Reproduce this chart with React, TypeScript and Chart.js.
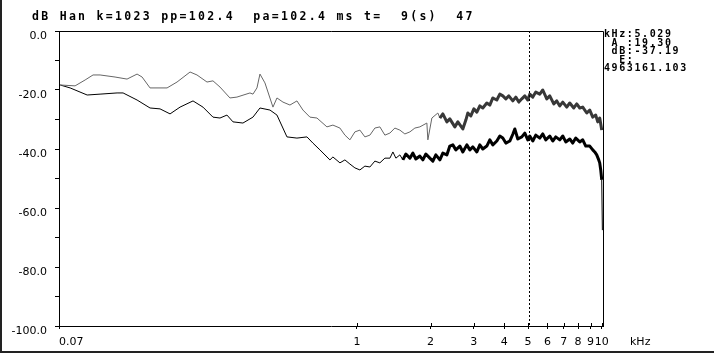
import React, { useEffect, useRef } from 'react';
import { Chart, registerables } from 'chart.js';

Chart.register(...registerables);

// ---- data (kHz, dB) ----
const UPPER_KHZ = [
  0.0614, 0.0706, 0.0776, 0.0836, 0.0893, 0.1028, 0.1151, 0.1265, 0.1326, 0.1429,
  0.1677, 0.1842, 0.2082, 0.2222, 0.2442, 0.2583, 0.2759, 0.303, 0.3236, 0.3658,
  0.3762, 0.3906, 0.4018, 0.4211, 0.4541, 0.4715, 0.4989, 0.5328, 0.569, 0.602,
  0.6429, 0.6867, 0.7543, 0.798, 0.8524, 0.8934, 0.9364, 0.9813, 1.0285, 1.078,
  1.13, 1.184, 1.241, 1.301, 1.364, 1.429, 1.498, 1.57, 1.646, 1.725,
  1.808, 1.931, 1.949, 2.024, 2.141,
  2.182, 2.244, 2.33, 2.396, 2.512, 2.584, 2.708, 2.786, 2.839, 2.92,
  3.004, 3.09, 3.177, 3.268, 3.393, 3.49, 3.591, 3.728, 3.834, 3.944,
  4.057, 4.173, 4.333, 4.457, 4.584, 4.716, 4.851, 4.989, 5.083, 5.229,
  5.378, 5.584, 5.744, 5.963, 6.134, 6.37, 6.552, 6.74, 6.932, 7.196,
  7.403, 7.687, 7.906, 8.133, 8.365, 8.686, 8.935, 9.19, 9.452, 9.631,
  9.813, 10.0,
];
const UPPER_DB = [
  -18.3, -18.6, -16.6, -14.9, -14.9, -15.6, -16.3, -14.6, -15.6, -19.3,
  -19.3, -17.3, -13.9, -14.9, -17.3, -16.9, -19.0, -22.7, -22.4, -21.0,
  -21.4, -19.3, -14.6, -17.6, -25.8, -22.7, -24.1, -25.1, -23.7, -26.8,
  -29.2, -29.5, -32.5, -31.9, -32.9, -35.3, -36.9, -34.2, -33.6, -35.9,
  -35.3, -32.9, -32.5, -35.3, -34.6, -32.9, -33.6, -34.9, -34.2, -32.9,
  -32.5, -31.2, -36.9, -29.5, -27.8,
  -29.5, -28.1, -30.8, -29.8, -32.5, -30.8, -33.2, -30.2, -27.8, -28.8,
  -26.4, -27.5, -25.4, -26.1, -24.4, -25.1, -22.7, -23.4, -21.4, -22.0,
  -23.0, -22.0, -23.7, -22.4, -24.1, -23.0, -22.0, -23.4, -21.4, -22.4,
  -20.7, -21.4, -20.0, -23.0, -22.0, -24.7, -23.7, -25.4, -24.1, -25.8,
  -24.4, -26.1, -24.7, -26.1, -25.8, -27.8, -26.8, -29.2, -28.5, -30.8,
  -29.5, -33.6,
];

const LOWER_KHZ = [
  0.0614, 0.0674, 0.0791, 0.0893, 0.1048, 0.1109, 0.1265, 0.1429, 0.157, 0.1725,
  0.1895, 0.2141, 0.2351, 0.2583, 0.2759, 0.2946, 0.3118, 0.3424, 0.3762, 0.4018,
  0.4415, 0.4715, 0.518, 0.569, 0.6251, 0.6613, 0.7063, 0.7758, 0.798, 0.8524,
  0.8934, 0.9364, 0.9813, 1.0285, 1.078, 1.13, 1.184, 1.241, 1.301, 1.364,
  1.403, 1.443, 1.498,
  1.541, 1.585, 1.646, 1.693, 1.741, 1.808, 1.86, 1.913, 1.986, 2.043,
  2.101, 2.182, 2.244, 2.33, 2.396, 2.465, 2.536, 2.633, 2.708, 2.812,
  2.893, 2.976, 3.09, 3.177, 3.268, 3.393, 3.49, 3.591, 3.728, 3.834,
  3.944, 4.057, 4.212, 4.333, 4.415, 4.541, 4.716, 4.851, 4.989, 5.083,
  5.229, 5.378, 5.584, 5.744, 5.907, 6.134, 6.31, 6.49, 6.74, 6.932,
  7.131, 7.403, 7.614, 7.832, 8.133, 8.365, 8.604, 8.935, 9.19, 9.363,
  9.541, 9.723, 9.813, 9.906, 10.0, 10.06,
];
const LOWER_DB = [
  -18.3, -19.3, -21.7, -21.4, -21.0, -21.0, -23.4, -26.1, -26.4, -28.1,
  -25.8, -23.7, -25.8, -29.2, -29.5, -28.5, -30.8, -31.2, -29.2, -26.1,
  -26.8, -28.5, -35.9, -36.3, -35.9, -38.0, -40.3, -43.7, -42.7, -44.7,
  -43.7, -45.1, -46.4, -47.1, -45.8, -46.1, -44.1, -44.7, -43.1, -43.1,
  -41.0, -43.1, -42.0,
  -43.7, -41.7, -43.1, -41.4, -43.4, -42.4, -43.7, -41.7, -43.1, -44.1,
  -42.0, -43.7, -41.4, -42.0, -39.0, -38.6, -40.3, -39.0, -41.0, -38.6,
  -40.3, -39.3, -41.0, -38.6, -40.0, -39.0, -36.9, -38.6, -37.3, -35.6,
  -36.3, -38.0, -37.3, -35.0, -33.2, -36.6, -35.9, -34.6, -36.9, -35.6,
  -37.3, -35.3, -36.3, -34.9, -36.9, -35.6, -37.3, -35.9, -36.9, -35.6,
  -37.6, -36.6, -38.0, -36.3, -37.6, -36.9, -39.0, -39.0, -40.3, -41.0,
  -42.0, -43.7, -44.7, -47.1, -50.5, -67.5,
];

const X_TICKS = [0.0607, 1, 2, 3, 4, 5, 6, 7, 8, 9, 10];
const X_TICK_LABELS = ['0.07', '1', '2', '3', '4', '5', '6', '7', '8', '9', '10'];
const X_UNIT = 'kHz';
const CURSOR_KHZ = 5.029;

const TITLE = 'dB Han k=1023 pp=102.4  pa=102.4 ms t=  9(s)  47';
const INFO_LINES = ['kHz:5.029', ' A :19.30', ' dB:-37.19', '  E:', '4963161.103'];

const FONT = '"DejaVu Sans", sans-serif';

const framePlugin = {
  id: 'frame',
  afterDraw(chart: any) {
    const { ctx, chartArea: ca } = chart;
    const xs = chart.scales.x;
    ctx.save();
    ctx.strokeStyle = '#000';
    ctx.lineWidth = 1;
    ctx.beginPath();
    ctx.moveTo(ca.left, Math.round(ca.top) + 0.5);
    ctx.lineTo(Math.round(ca.right) + 0.5, Math.round(ca.top) + 0.5);
    ctx.lineTo(Math.round(ca.right) + 0.5, ca.bottom);
    ctx.stroke();
    ctx.beginPath();
    X_TICKS.forEach((v) => {
      const px = Math.round(xs.getPixelForValue(v)) + 0.5;
      ctx.moveTo(px, ca.bottom - 3);
      ctx.lineTo(px, ca.bottom);
    });
    ctx.stroke();
    const cx = Math.round(xs.getPixelForValue(CURSOR_KHZ)) + 0.5;
    ctx.setLineDash([2, 2]);
    ctx.beginPath();
    ctx.moveTo(cx, ca.top);
    ctx.lineTo(cx, ca.bottom);
    ctx.stroke();
    ctx.setLineDash([]);
    ctx.fillStyle = '#000';
    ctx.font = `11px ${FONT}`;
    ctx.textBaseline = 'middle';
    X_TICKS.forEach((v, i) => {
      const px = xs.getPixelForValue(v);
      ctx.textAlign = i === 0 ? 'left' : 'center';
      ctx.fillText(X_TICK_LABELS[i], px, ca.bottom + 16);
    });
    ctx.textAlign = 'left';
    ctx.fillText(X_UNIT, 630, ca.bottom + 16);
    ctx.restore();
  },
};

export default function App() {
  const ref = useRef<HTMLCanvasElement>(null);
  useEffect(() => {
    const upper = UPPER_KHZ.map((f, i) => ({ x: f, y: UPPER_DB[i] }));
    const lower = LOWER_KHZ.map((f, i) => ({ x: f, y: LOWER_DB[i] }));
    const chart = new Chart(ref.current!, {
      type: 'line',
      data: {
        datasets: [
          {
            data: upper,
            borderColor: '#666',
            borderWidth: 1,
            pointRadius: 0,
            tension: 0,
            borderJoinStyle: 'round',
            segment: {
              borderWidth: (c: any) => (c.p0.parsed.x >= 2.16 ? 3 : 1),
              borderColor: (c: any) => (c.p0.parsed.x >= 2.16 ? '#383838' : '#666'),
            },
          },
          {
            data: lower,
            borderColor: '#000',
            borderWidth: 1,
            pointRadius: 0,
            tension: 0,
            borderJoinStyle: 'round',
            segment: {
              borderWidth: (c: any) => (c.p0.parsed.x >= 1.52 && c.p0.parsed.x < 10 ? 3 : 1),
            },
          },
        ],
      },
      options: {
        responsive: false,
        animation: false,
        devicePixelRatio: 1,
        layout: { padding: { top: 31, right: 111, left: 0, bottom: 0 } },
        plugins: { legend: { display: false }, tooltip: { enabled: false } },
        scales: {
          x: {
            type: 'logarithmic',
            min: 0.0607,
            max: 10.12,
            afterBuildTicks: (s: any) => {
              s.ticks = X_TICKS.map((v) => ({ value: v }));
            },
            afterFit: (s: any) => {
              s.height = 29;
            },
            ticks: { display: false },
            grid: { drawOnChartArea: false, tickLength: 3, color: '#000' },
            border: { color: '#000' },
          },
          y: {
            min: -100,
            max: 0,
            afterFit: (s: any) => {
              s.width = 59;
            },
            ticks: {
              stepSize: 10,
              autoSkip: false,
              labelOffset: 5,
              padding: 8,
              color: '#000',
              font: { family: FONT, size: 11 },
              callback: (v: any) => (Math.round(v) % 20 === 0 ? (Math.abs(v) < 1e-9 ? '0.0' : Number(v).toFixed(1)) : ''),
            },
            grid: { drawOnChartArea: false, tickLength: 4, color: '#000' },
            border: { color: '#000' },
          },
        },
      },
      plugins: [framePlugin],
    } as any);
    return () => chart.destroy();
  }, []);

  return (
    <div style={{ position: 'absolute', left: 0, top: 0, width: 714, height: 355, background: '#fff', overflow: 'hidden' }}>
      <canvas ref={ref} width={714} height={355} style={{ position: 'absolute', left: 0, top: 0, display: 'block' }} />
      <div
        style={{
          position: 'absolute', left: 32, top: 9, fontFamily: '"DejaVu Sans Mono", monospace', fontWeight: 'bold',
          fontSize: 11.5, letterSpacing: 2.3, lineHeight: '14px', whiteSpace: 'pre', color: '#000',
        }}
      >
        {TITLE}
      </div>
      <div
        style={{
          position: 'absolute', left: 604, top: 30, fontFamily: '"DejaVu Sans Mono", monospace', fontWeight: 'bold',
          fontSize: 10, letterSpacing: 1.6, lineHeight: '8.6px', whiteSpace: 'pre', color: '#000',
        }}
      >
        {INFO_LINES.map((l, i) => (
          <div key={i}>{l}</div>
        ))}
      </div>
      <div
        style={{
          position: 'absolute', left: 0, top: 0, width: 714, height: 353, boxSizing: 'border-box',
          borderLeft: '2px solid #222', borderBottom: '2px solid #222', pointerEvents: 'none',
        }}
      />
    </div>
  );
}
